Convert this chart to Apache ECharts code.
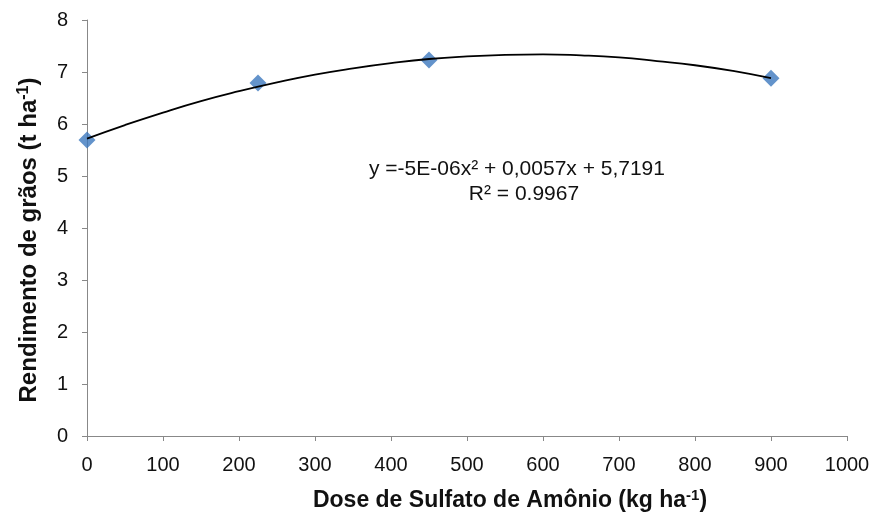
<!DOCTYPE html>
<html>
<head>
<meta charset="utf-8">
<script src="https://cdn.jsdelivr.net/npm/echarts@6/dist/echarts.min.js"></script>
<style>html,body{margin:0;padding:0;background:#fff}#c{width:874px;height:513px}</style>
</head>
<body>
<div id="c"></div>
<script>
// Observed data
var doses = [0, 225, 450, 900];
var yields = [5.69, 6.79, 7.23, 6.88];
// Trend line
var trendX = [0, 50, 100, 150, 200, 250, 300, 350, 400, 450, 500, 550, 600, 650, 700, 750, 800, 850, 900];
var trendY = [5.72, 5.98, 6.22, 6.44, 6.63, 6.80, 6.95, 7.07, 7.17, 7.25, 7.30, 7.33, 7.34, 7.32, 7.28, 7.21, 7.13, 7.02, 6.88];
var eqText = 'y =-5E-06x² + 0,0057x + 5,7191';
var r2Text = 'R² = 0.9967';
var xTitle = ['Dose de Sulfato de Amônio (kg ha', '-1', ')'];
var yTitle = ['Rendimento de grãos (t ha', '-1', ')'];

var chart = echarts.init(document.getElementById('c'));
var font = 'Liberation Sans, Arial, sans-serif';
function titleRich(sz) {
  return {
    b: {fontSize: sz, fontWeight: 'bold', fontFamily: font, fill: '#111', color: '#111'},
    s: {fontSize: Math.round(sz * 0.65), fontWeight: 'bold', fontFamily: font, fill: '#111', color: '#111', verticalAlign: 'top', padding: [0, 0, Math.round(sz * 0.45), 0]}
  };
}
chart.setOption({
  animation: false,
  grid: {left: 87, right: 27, top: 20, bottom: 77},
  xAxis: {
    type: 'value', min: 0, max: 1000, interval: 100,
    axisLine: {show: true, lineStyle: {color: '#888', width: 1}},
    axisTick: {show: true, length: 5, lineStyle: {color: '#888'}},
    splitLine: {show: false},
    axisLabel: {color: '#111', fontSize: 20, fontFamily: font, margin: 19,
      formatter: function (v) { return String(v); }}
  },
  yAxis: {
    type: 'value', min: 0, max: 8, interval: 1,
    axisLine: {show: true, lineStyle: {color: '#888', width: 1}},
    axisTick: {show: true, length: 5, lineStyle: {color: '#888'}},
    splitLine: {show: false},
    axisLabel: {color: '#111', fontSize: 20, fontFamily: font, margin: 19}
  },
  series: [
    {
      type: 'line', smooth: true, showSymbol: false, z: 3,
      data: trendX.map(function (x, i) { return [x, trendY[i]]; }),
      lineStyle: {color: '#000', width: 1.8}
    },
    {
      type: 'scatter', symbol: 'diamond', symbolSize: 17, z: 2,
      data: doses.map(function (x, i) { return [x, yields[i]]; }),
      itemStyle: {color: '#3c78be'}
    }
  ],
  graphic: [
    {type: 'text', x: 517, y: 169, style: {text: eqText, font: '21px ' + font, fill: '#111', align: 'center', verticalAlign: 'middle'}},
    {type: 'text', x: 524, y: 194, style: {text: r2Text, font: '21px ' + font, fill: '#111', align: 'center', verticalAlign: 'middle'}},
    {type: 'text', x: 510, y: 501, style: {
      text: '{b|' + xTitle[0] + '}{s|' + xTitle[1] + '}{b|' + xTitle[2] + '}',
      rich: titleRich(23), align: 'center', verticalAlign: 'middle'}},
    {type: 'text', x: 29, y: 240, rotation: Math.PI / 2, style: {
      text: '{b|' + yTitle[0] + '}{s|' + yTitle[1] + '}{b|' + yTitle[2] + '}',
      rich: titleRich(24), align: 'center', verticalAlign: 'middle'}}
  ]
});
</script>
</body>
</html>
